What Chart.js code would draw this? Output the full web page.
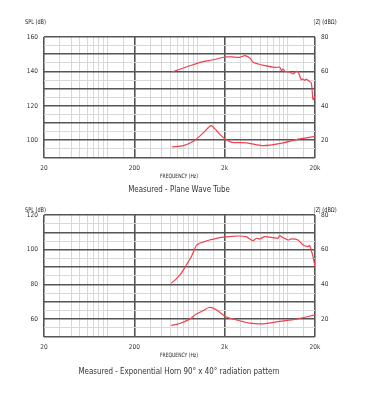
<!DOCTYPE html>
<html><head><meta charset="utf-8">
<script src="https://cdn.jsdelivr.net/npm/chart.js@4.4.1/dist/chart.umd.min.js"></script>
<style>
html,body{margin:0;padding:0;background:#fff;}
body{width:369px;height:408px;position:relative;overflow:hidden;font-family:"Liberation Sans Narrow","DejaVu Sans Condensed","Liberation Sans",sans-serif;color:#222;}
canvas{position:absolute;left:0;}
.t{position:absolute;white-space:nowrap;line-height:1;}
.cx{transform:translate(-50%,-50%) scaleX(0.83);}
.ly{transform:translateY(-50%) scaleX(0.85);transform-origin:0 50%;}
</style></head><body>
<canvas id="c1" width="369" height="195" style="top:0"></canvas>
<canvas id="c2" width="369" height="213" style="top:195px"></canvas>

<div class="t ly" style="left:25px;top:22px;font-size:6.5px;">SPL (dB)</div>
<div class="t ly" style="left:314px;top:22px;font-size:6.5px;">|Z| (dBΩ)</div>
<div class="t cx" style="left:179px;top:176px;font-size:6px;">FREQUENCY (Hz)</div>
<div class="t cx" style="left:178.5px;top:189px;font-size:9.5px;color:#333;">Measured - Plane Wave Tube</div>

<div class="t ly" style="left:25px;top:209.5px;font-size:6.5px;">SPL (dB)</div>
<div class="t ly" style="left:314px;top:209.5px;font-size:6.5px;">|Z| (dBΩ)</div>
<div class="t cx" style="left:179px;top:355px;font-size:6px;">FREQUENCY (Hz)</div>
<div class="t cx" style="left:178.5px;top:371px;font-size:9.5px;color:#333;">Measured - Exponential Horn 90° x 40° radiation pattern</div>

<script>
// ---- tick labels ----
const xTickValues = [20, 200, 2000, 20000];
const xTickLabels = ['20', '200', '2k', '20k'];
const gridMult = [1, 1.5, 2, 3, 4, 5, 6, 7, 8, 9];
const topSplTicks = [100, 120, 140, 160];
const botSplTicks = [60, 80, 100, 120];
const zTicks = [20, 40, 60, 80];

// ---- Top chart: Plane Wave Tube ----
const topSplFreq = [520, 700, 1070, 1500, 2020, 2390, 2950, 3350, 3800, 4140, 4700, 5570, 7180, 8150, 8500, 8870, 9250, 10500, 11400, 12450, 13000, 14100, 14750, 15400, 16000, 16750, 18200, 19000, 19850];
const topSplDb   = [139.7, 142.0, 145.3, 146.8, 148.4, 148.4, 148.2, 149.2, 147.8, 145.3, 144.3, 143.4, 142.4, 142.4, 140.6, 141.4, 140.1, 139.7, 138.5, 140.1, 139.7, 135.2, 135.6, 134.8, 135.6, 134.8, 133.3, 123.6, 125.5];
const topZFreq = [520, 700, 900, 1160, 1410, 1560, 1780, 2070, 2390, 3500, 5340, 8870, 12450, 19850];
const topZ     = [16.1, 16.9, 19.4, 24.3, 28.5, 26.6, 23.3, 20.4, 18.8, 18.5, 16.9, 18.5, 20.4, 22.3];

// ---- Bottom chart: Exponential Horn ----
const botSplFreq = [513, 583, 663, 753, 855, 971, 1057, 1200, 1365, 1550, 1760, 2000, 2370, 2810, 3480, 3790, 4120, 4490, 4880, 5540, 6860, 7790, 8120, 8850, 10050, 10940, 12970, 14730, 16740, 17460, 19010, 20000];
const botSplDb   = [80.7, 83.2, 86.5, 91.2, 96.0, 102.4, 103.7, 104.7, 105.6, 106.2, 107.0, 107.3, 107.7, 107.9, 107.5, 106.2, 105.2, 106.6, 106.2, 107.5, 107.0, 106.6, 108.1, 107.0, 105.6, 106.2, 105.6, 102.7, 101.8, 102.4, 96.0, 90.3];
const botZFreq = [513, 636, 820, 971, 1150, 1340, 1550, 1760, 2085, 2690, 3790, 5310, 8120, 12420, 20000];
const botZ     = [16.4, 17.5, 20.0, 22.9, 24.8, 26.7, 25.9, 24.0, 21.2, 19.6, 17.7, 17.3, 18.7, 20.0, 22.5];

const FONT = '"Liberation Sans Narrow","DejaVu Sans Condensed","Liberation Sans",sans-serif';
const DARK = '#555555';
const LIGHT = '#d9d9d9';
const RED = '#f0414e';

const xGrid = [];
[10, 100, 1000, 10000].forEach(p => gridMult.forEach(m => {
  const v = Math.round(m * p);
  if (v >= 20 && v <= 20000) xGrid.push(v);
}));
if (!xGrid.includes(20000)) xGrid.push(20000);

function pts(xs, ys) { return xs.map((x, i) => ({ x: x, y: ys[i] })); }

function makeChart(id, splF, splV, zF, zV, yMin, yMax, yLabels, areaTop, areaBottom, canvasH) {
  new Chart(document.getElementById(id), {
    type: 'line',
    data: {
      datasets: [
        { data: pts(splF, splV), yAxisID: 'y', borderColor: RED, borderWidth: 1.2, pointRadius: 0, tension: 0.2, fill: false },
        { data: pts(zF, zV), yAxisID: 'y2', borderColor: RED, borderWidth: 1.2, pointRadius: 0, tension: 0.3, fill: false }
      ]
    },
    options: {
      responsive: false, animation: false,
      layout: { padding: { top: areaTop, left: 0, right: 0, bottom: 0 } },
      plugins: { legend: { display: false }, tooltip: { enabled: false }, title: { display: false } },
      scales: {
        x: {
          type: 'logarithmic', position: 'bottom', min: 20, max: 20000,
          afterBuildTicks: s => { s.ticks = xGrid.map(v => ({ value: v })); },
          afterFit: s => { s.height = canvasH - areaBottom; },
          border: { display: false },
          grid: {
            drawTicks: false,
            color: c => (c.tick && xTickValues.includes(c.tick.value)) ? DARK : LIGHT,
            lineWidth: c => (c.tick && xTickValues.includes(c.tick.value)) ? 1.6 : 1
          },
          ticks: {
            autoSkip: false, maxRotation: 0, minRotation: 0, padding: 7, color: '#333',
            font: { family: FONT, size: 6.5 },
            callback: v => { const i = xTickValues.indexOf(v); return i >= 0 ? xTickLabels[i] : ''; }
          }
        },
        y: {
          type: 'linear', position: 'left', min: yMin, max: yMax,
          afterBuildTicks: s => { const t = []; for (let v = yMin; v <= yMax; v += 5) t.push({ value: v }); s.ticks = t; },
          afterFit: s => { s.width = 44; },
          border: { display: false },
          grid: {
            drawTicks: false,
            color: c => (c.tick && c.tick.value % 10 === 0) ? DARK : LIGHT,
            lineWidth: c => (c.tick && c.tick.value % 10 === 0) ? 1.6 : 1
          },
          ticks: {
            autoSkip: false, padding: 6, color: '#333', font: { family: FONT, size: 6.5 },
            callback: v => yLabels.includes(v) ? String(v) : ''
          }
        },
        y2: {
          type: 'linear', position: 'right', min: 10, max: 80,
          afterBuildTicks: s => { const t = []; for (let v = 10; v <= 80; v += 5) t.push({ value: v }); s.ticks = t; },
          afterFit: s => { s.width = 54; },
          border: { display: false },
          grid: { display: false, drawTicks: false },
          ticks: {
            autoSkip: false, padding: 6, color: '#333', font: { family: FONT, size: 6.5 },
            callback: v => zTicks.includes(v) ? String(v) : ''
          }
        }
      }
    }
  });
}

makeChart('c1', topSplFreq, topSplDb, topZFreq, topZ, 90, 160, topSplTicks, 37, 157.5, 195);
makeChart('c2', botSplFreq, botSplDb, botZFreq, botZ, 50, 120, botSplTicks, 20, 141.5, 213);
</script>
</body></html>
